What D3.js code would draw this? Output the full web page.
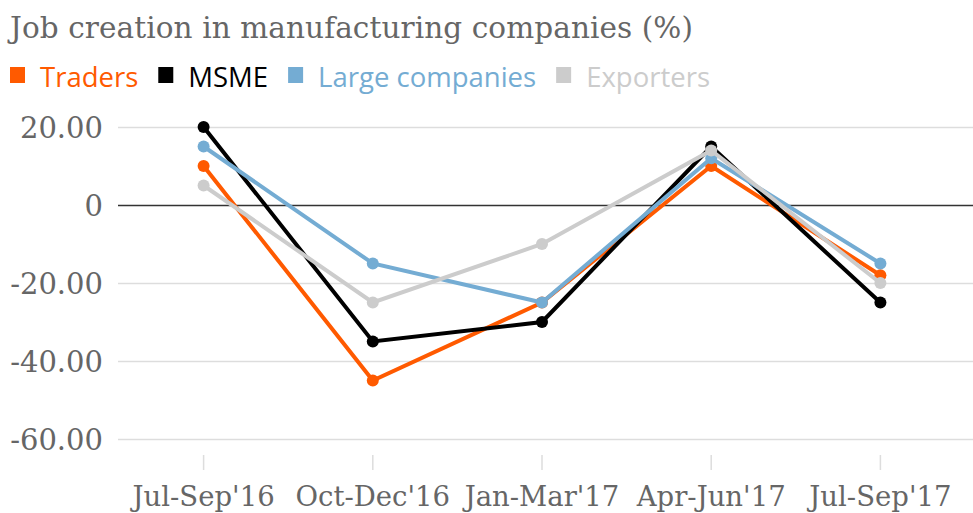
<!DOCTYPE html>
<html>
<head>
<meta charset="utf-8">
<script src="https://cdnjs.cloudflare.com/ajax/libs/d3/7.8.5/d3.min.js"></script>
<style>
body { margin: 0; background: #fff; }
text { font-family: "DejaVu Serif", serif; }
</style>
</head>
<body>
<svg width="973" height="513"></svg>
<script>
"use strict"

var categories = ["Jul-Sep'16", "Oct-Dec'16", "Jan-Mar'17", "Apr-Jun'17", "Jul-Sep'17"];
var traders    = [10, -45, -25, 10, -18];
var msme       = [20, -35, -30, 15, -25];
var large      = [15, -15, -25, 12, -15];
var exporters  = [5, -25, -10, 14, -20];
var yTicks     = [20, 0, -20, -40, -60];

var series = [
    {name: "Traders", color: "#ff5a00", values: traders},
    {name: "MSME", color: "#000000", values: msme},
    {name: "Large companies", color: "#74acd3", values: large},
    {name: "Exporters", color: "#cccccc", values: exporters}
];

var svg = d3.select("svg");

var x = d3.scalePoint().domain(categories).range([119, 965]).padding(0.5);
var y = d3.scaleLinear().domain([-60, 20]).range([439, 127]);

// title
svg.append("text")
    .attr("x", 10).attr("y", 38)
    .attr("fill", "#666")
    .style("font-size", "29.5px")
    .attr("textLength", 683)
    .text("Job creation in manufacturing companies (%)");

// legend
var lx = 10;
series.forEach(function(s) {
    var g = svg.append("g").attr("transform", "translate(" + lx + ",0)");
    g.append("rect").attr("x", 0).attr("y", 67).attr("width", 15).attr("height", 16)
        .attr("fill", s.color);
    var t = g.append("text")
        .attr("x", 30).attr("y", 87)
        .attr("fill", s.name === "MSME" ? "#000" : s.color)
        .style("font-family", "'Open Sans', sans-serif")
        .style("font-size", "27.5px")
        .text(s.name);
    lx += 30 + t.node().getComputedTextLength() + 20;
});

// grid
svg.append("g").selectAll("line")
    .data(yTicks)
    .enter().append("line")
    .attr("x1", 118).attr("x2", 973)
    .attr("y1", function(d) { return y(d) + 0.5; })
    .attr("y2", function(d) { return y(d) + 0.5; })
    .attr("stroke", function(d) { return d === 0 ? "#333" : "#ddd"; })
    .attr("stroke-width", function(d) { return d === 0 ? 1.3 : 1.5; });

svg.append("g").selectAll("text")
    .data(yTicks)
    .enter().append("text")
    .attr("x", 103)
    .attr("y", function(d) { return y(d) + 11; })
    .attr("text-anchor", "end")
    .attr("fill", "#666")
    .style("font-size", "29px")
    .text(function(d) { return d === 0 ? "0" : d.toFixed(2); });

// x ticks
var xa = svg.append("g");
xa.selectAll("line")
    .data(categories)
    .enter().append("line")
    .attr("x1", function(d) { return x(d); })
    .attr("x2", function(d) { return x(d); })
    .attr("y1", 455).attr("y2", 470)
    .attr("stroke", "#ddd").attr("stroke-width", 1.5);
xa.selectAll("text")
    .data(categories)
    .enter().append("text")
    .attr("x", function(d) { return x(d); })
    .attr("y", 506)
    .attr("text-anchor", "middle")
    .attr("fill", "#666")
    .style("font-size", "27.5px")
    .text(function(d) { return d; });

// lines
var line = d3.line()
    .x(function(d, i) { return x(categories[i]); })
    .y(function(d) { return y(d); });

series.forEach(function(s) {
    var g = svg.append("g");
    g.append("path")
        .attr("d", line(s.values))
        .attr("fill", "none")
        .attr("stroke", s.color)
        .attr("stroke-width", 4);
    g.selectAll("circle")
        .data(s.values)
        .enter().append("circle")
        .attr("cx", function(d, i) { return x(categories[i]); })
        .attr("cy", function(d) { return y(d); })
        .attr("r", 6)
        .attr("fill", s.color);
});
</script>
</body>
</html>
